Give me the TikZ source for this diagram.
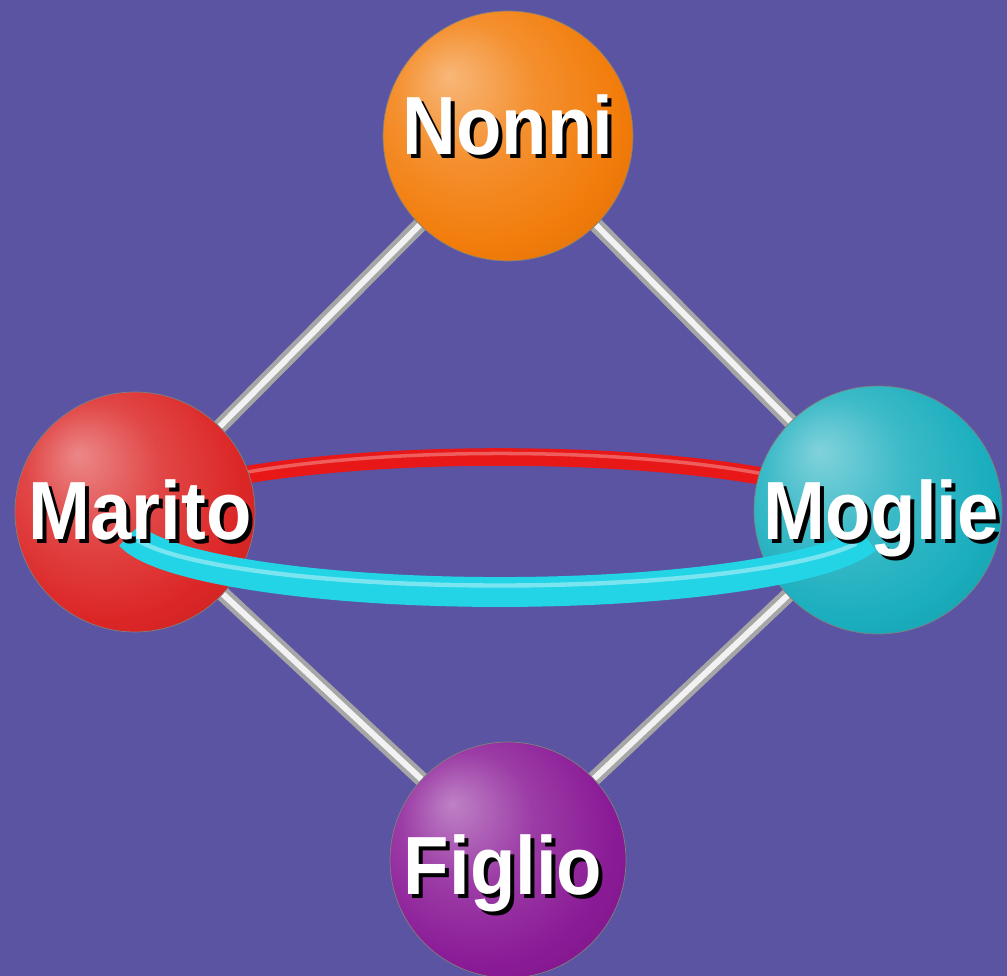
\documentclass[tikz,border=0pt]{standalone}
\usepackage{fontspec}
\newfontfamily\ballfont[FakeStretch=0.9]{Liberation Sans}
\definecolor{bgpurple}{HTML}{5A54A2}
\definecolor{ballorange}{HTML}{F27C0A}
\definecolor{ballred}{HTML}{DC2626}
\definecolor{ballcyan}{HTML}{1AAEBE}
\definecolor{ballpurple}{HTML}{8A1A96}
\definecolor{ringred}{HTML}{E81818}
\definecolor{ringcyan}{HTML}{22D4E6}
\makeatletter
\pgfdeclareradialshading[tikz@ball]{softball}{\pgfpoint{-12bp}{12bp}}{%
  color(0bp)=(tikz@ball!55!white);
  color(14bp)=(tikz@ball!85!white);
  color(28bp)=(tikz@ball);
  color(42bp)=(tikz@ball!85!black);
  color(52bp)=(tikz@ball!65!black)}
\makeatother
\newcommand{\shadowname}[1]{\rlap{\kern0.08cm\raisebox{-0.08cm}{\color{black}#1}}#1}
\pgfdeclarelayer{back}
\pgfdeclarelayer{backmost}
\pgfsetlayers{backmost,back,main}
\begin{document}
\begin{tikzpicture}[x=0.02cm,y=0.02cm,
  sphere/.style={circle,ball color=#1,shading=softball,draw=black!50,line width=0.4pt,inner sep=0pt},
  rod/.style={line width=8.5pt,color=gray!70,line cap=butt},
  rodlight/.style={line width=3.4pt,color=white!90!gray},
  ballname/.style={text=white,anchor=base,inner sep=0pt,font=\ballfont\bfseries\fontsize{47}{50}\selectfont}]
  \useasboundingbox (0,0) rectangle (1007,976);
  \begin{pgfonlayer}{backmost}
    \fill[bgpurple] (0,0) rectangle (1007,976);
  \end{pgfonlayer}

  % spheres
  \node[sphere=ballorange,minimum size=5cm] (nonni) at (508,840) {};
  \node[sphere=ballred,minimum size=4.8cm] (marito) at (135,464) {};
  \node[sphere=ballcyan,minimum size=4.96cm] (moglie) at (878,466) {};
  \node[sphere=ballpurple,minimum size=4.72cm] (figlio) at (508,116) {};
  \coordinate (ring) at (500,451.5);

  % rods and back of the ring
  \begin{pgfonlayer}{back}
    \foreach \a/\b in {nonni/marito,nonni/moglie,marito/figlio,moglie/figlio}{
      \draw[rod] (\a.center) -- (\b.center);
      \draw[rodlight] (\a.center) -- (\b.center);
    }
    \draw[ringred,line width=10pt] ([shift={(0:375 and 67.5)}]ring) arc[start angle=0,end angle=180,x radius=375,y radius=67.5];
    \draw[ringred!70!white,line width=2pt] ([shift={(10:375 and 71)}]ring) arc[start angle=10,end angle=170,x radius=375,y radius=71];
  \end{pgfonlayer}

  % front of the ring
  \draw[ringcyan,line width=17pt] ([shift={(189:375 and 67.5)}]ring) arc[start angle=189,end angle=348,x radius=375,y radius=67.5];
  \draw[ringcyan!60!white,line width=2.5pt] ([shift={(195:375 and 61)}]ring) arc[start angle=195,end angle=342,x radius=375,y radius=61];

  % labels
  \node[ballname] (nonnilbl) at (508,821) {\shadowname{Nonni}};
  \node[ballname] (maritolbl) at (140,436) {\shadowname{Marito}};
  \node[ballname] (moglielbl) at (881,436) {\shadowname{Moglie}};
  \node[ballname] (figliolbl) at (503,81) {\shadowname{Figlio}};
\end{tikzpicture}
\end{document}
